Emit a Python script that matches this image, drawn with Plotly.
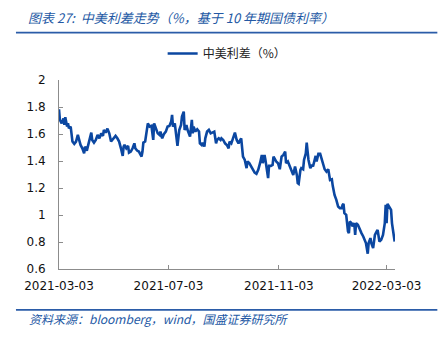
import plotly.graph_objects as go

dates = [
    "2021-03-03", "2021-03-04", "2021-03-06", "2021-03-08", "2021-03-09", "2021-03-10", "2021-03-12", "2021-03-13",
    "2021-03-14", "2021-03-16", "2021-03-18", "2021-03-20", "2021-03-22", "2021-03-24", "2021-03-26", "2021-03-27",
    "2021-03-29", "2021-03-31", "2021-04-01", "2021-04-03", "2021-04-05", "2021-04-06", "2021-04-08", "2021-04-09",
    "2021-04-11", "2021-04-13", "2021-04-15", "2021-04-17", "2021-04-19", "2021-04-21", "2021-04-22", "2021-04-24",
    "2021-04-26", "2021-04-28", "2021-04-30", "2021-05-02", "2021-05-04", "2021-05-05", "2021-05-07", "2021-05-09",
    "2021-05-11", "2021-05-13", "2021-05-14", "2021-05-15", "2021-05-17", "2021-05-19", "2021-05-20", "2021-05-22",
    "2021-05-24", "2021-05-26", "2021-05-27", "2021-05-29", "2021-05-31", "2021-06-01", "2021-06-03", "2021-06-04",
    "2021-06-05", "2021-06-07", "2021-06-08", "2021-06-10", "2021-06-12", "2021-06-14", "2021-06-16", "2021-06-17",
    "2021-06-19", "2021-06-21", "2021-06-23", "2021-06-24", "2021-06-26", "2021-06-28", "2021-06-30", "2021-07-02",
    "2021-07-04", "2021-07-06", "2021-07-07", "2021-07-08", "2021-07-10", "2021-07-12", "2021-07-13", "2021-07-15",
    "2021-07-17", "2021-07-18", "2021-07-20", "2021-07-21", "2021-07-23", "2021-07-24", "2021-07-25", "2021-07-27",
    "2021-07-28", "2021-07-29", "2021-07-30", "2021-07-31", "2021-08-02", "2021-08-04", "2021-08-06", "2021-08-07",
    "2021-08-09", "2021-08-10", "2021-08-12", "2021-08-13", "2021-08-15", "2021-08-17", "2021-08-19", "2021-08-21",
    "2021-08-23", "2021-08-25", "2021-08-26", "2021-08-28", "2021-08-30", "2021-08-31", "2021-09-02", "2021-09-04",
    "2021-09-06", "2021-09-08", "2021-09-09", "2021-09-11", "2021-09-13", "2021-09-15", "2021-09-17", "2021-09-19",
    "2021-09-21", "2021-09-22", "2021-09-24", "2021-09-26", "2021-09-28", "2021-09-29", "2021-10-01", "2021-10-02",
    "2021-10-04", "2021-10-05", "2021-10-07", "2021-10-09", "2021-10-11", "2021-10-13", "2021-10-15", "2021-10-16",
    "2021-10-18", "2021-10-19", "2021-10-21", "2021-10-22", "2021-10-23", "2021-10-25", "2021-10-27", "2021-10-28",
    "2021-10-30", "2021-10-31", "2021-11-02", "2021-11-04", "2021-11-06", "2021-11-08", "2021-11-10", "2021-11-11",
    "2021-11-13", "2021-11-15", "2021-11-17", "2021-11-19", "2021-11-21", "2021-11-23", "2021-11-24", "2021-11-25",
    "2021-11-27", "2021-11-28", "2021-11-30", "2021-12-01", "2021-12-03", "2021-12-04", "2021-12-05", "2021-12-06",
    "2021-12-08", "2021-12-10", "2021-12-11", "2021-12-13", "2021-12-14", "2021-12-15", "2021-12-17", "2021-12-19",
    "2021-12-20", "2021-12-22", "2021-12-24", "2021-12-26", "2021-12-28", "2021-12-30", "2022-01-01", "2022-01-02",
    "2022-01-04", "2022-01-06", "2022-01-08", "2022-01-10", "2022-01-12", "2022-01-13", "2022-01-14", "2022-01-15",
    "2022-01-17", "2022-01-19", "2022-01-20", "2022-01-21", "2022-01-23", "2022-01-24", "2022-01-26", "2022-01-27",
    "2022-01-28", "2022-01-30", "2022-02-01", "2022-02-03", "2022-02-05", "2022-02-07", "2022-02-08", "2022-02-10",
    "2022-02-11", "2022-02-13", "2022-02-14", "2022-02-16", "2022-02-17", "2022-02-18", "2022-02-20", "2022-02-21",
    "2022-02-23", "2022-02-25", "2022-02-27", "2022-03-01", "2022-03-02", "2022-03-03", "2022-03-04", "2022-03-06",
    "2022-03-08", "2022-03-09", "2022-03-11", "2022-03-12",
]

spread = [
    1.783, 1.704, 1.679, 1.716, 1.667, 1.724, 1.655, 1.679,
    1.642, 1.655, 1.544, 1.527, 1.544, 1.593, 1.544, 1.519,
    1.494, 1.457, 1.507, 1.477, 1.531, 1.561, 1.610, 1.556,
    1.536, 1.556, 1.593, 1.568, 1.605, 1.586, 1.630, 1.610,
    1.640, 1.605, 1.544, 1.561, 1.576, 1.586, 1.568, 1.544,
    1.494, 1.438, 1.507, 1.519, 1.494, 1.512, 1.462, 1.470,
    1.494, 1.531, 1.494, 1.477, 1.470, 1.453, 1.433, 1.470,
    1.536, 1.544, 1.581, 1.679, 1.655, 1.660, 1.556, 1.679,
    1.642, 1.605, 1.593, 1.618, 1.568, 1.601, 1.618, 1.655,
    1.660, 1.692, 1.741, 1.655, 1.679, 1.581, 1.512, 1.630,
    1.667, 1.729, 1.766, 1.630, 1.667, 1.635, 1.618, 1.581,
    1.642, 1.704, 1.605, 1.655, 1.618, 1.635, 1.618, 1.531,
    1.519, 1.536, 1.507, 1.568, 1.618, 1.630, 1.605, 1.610,
    1.618, 1.531, 1.556, 1.568, 1.556, 1.568, 1.556, 1.531,
    1.519, 1.494, 1.544, 1.531, 1.568, 1.610, 1.556, 1.531,
    1.556, 1.568, 1.433, 1.408, 1.347, 1.396, 1.384, 1.371,
    1.354, 1.334, 1.314, 1.305, 1.334, 1.384, 1.445, 1.384,
    1.445, 1.408, 1.322, 1.273, 1.364, 1.364, 1.371, 1.433,
    1.408, 1.396, 1.384, 1.339, 1.433, 1.445, 1.470, 1.384,
    1.396, 1.359, 1.334, 1.297, 1.359, 1.297, 1.236, 1.231,
    1.334, 1.347, 1.339, 1.408, 1.457, 1.536, 1.470, 1.408,
    1.347, 1.371, 1.359, 1.408, 1.438, 1.396, 1.453, 1.453,
    1.428, 1.388, 1.339, 1.322, 1.339, 1.260, 1.265, 1.216,
    1.149, 1.112, 1.063, 1.051, 1.051, 1.075, 1.083, 1.014,
    1.001, 0.878, 0.866, 0.952, 0.940, 0.915, 0.940, 0.853,
    0.940, 0.927, 0.890, 0.866, 0.841, 0.816, 0.792, 0.713,
    0.792, 0.829, 0.792, 0.755, 0.792, 0.853, 0.878, 0.890,
    0.804, 0.816, 0.853, 0.940, 1.075, 0.940, 1.083, 1.063,
    1.038, 0.940, 0.866, 0.804,
]

x_tick_vals = ["2021-03-03", "2021-07-03", "2021-11-03", "2022-03-03"]
x_tick_text = ["2021-03-03", "2021-07-03", "2021-11-03", "2022-03-03"]
y_tick_vals = [0.6, 0.8, 1.0, 1.2, 1.4, 1.6, 1.8, 2.0]
y_tick_text = ["0.6", "0.8", "1", "1.2", "1.4", "1.6", "1.8", "2"]

series_name = "中美利差（%）"
title_text = "图表 27:  中美利差走势（%，基于 10 年期国债利率）"
source_text = "资料来源：bloomberg，wind，国盛证券研究所"

W, H = 442, 342
L, R, T, B = 59, 47.3, 79.5, 73
pw = W - L - R
ph = H - T - B


def px_x(p):
    return (p - L) / pw


def px_y(p):
    return (H - B - p) / ph


LINE_BLUE = "#0B47A1"
HEAD_BLUE = "#2B5CA8"
TEXT_BLUE = "#2358A4"
AXIS_GRAY = "#8C8C8C"
CJK = "Noto Sans CJK SC"
LAT = "DejaVu Sans"

fig = go.Figure()
fig.add_trace(go.Scatter(
    x=dates, y=spread, mode="lines", name=series_name,
    line=dict(color=LINE_BLUE, width=2.6),
))

fig.update_layout(
    width=W, height=H,
    margin=dict(l=L, r=R, t=T, b=B, pad=0),
    paper_bgcolor="white", plot_bgcolor="white",
    showlegend=True,
    legend=dict(
        orientation="h", x=px_x(227), xanchor="center", y=px_y(53), yanchor="middle",
        font=dict(family=CJK, size=12, color="#222222"),
        bgcolor="rgba(0,0,0,0)", itemwidth=30,
    ),
    xaxis=dict(
        type="date", range=["2021-03-03", "2022-03-12 09:00"],
        tickvals=x_tick_vals, ticktext=x_tick_text,
        showgrid=False, zeroline=False,
        showline=True, linecolor=AXIS_GRAY, linewidth=1,
        ticks="inside", ticklen=4, tickcolor=AXIS_GRAY,
        tickfont=dict(family=LAT, size=12, color="#111111"),
        ticklabelstandoff=6,
    ),
    yaxis=dict(
        range=[0.6, 2.0],
        tickvals=y_tick_vals, ticktext=y_tick_text,
        showgrid=False, zeroline=False,
        showline=True, linecolor=AXIS_GRAY, linewidth=1,
        ticks="inside", ticklen=4, tickcolor=AXIS_GRAY,
        tickfont=dict(family=LAT, size=12, color="#111111"),
        ticklabelstandoff=10,
    ),
    shapes=[
        dict(type="line", xref="paper", yref="paper",
             x0=px_x(16), x1=px_x(437), y0=px_y(32), y1=px_y(32),
             line=dict(color=HEAD_BLUE, width=1.6)),
        dict(type="line", xref="paper", yref="paper",
             x0=px_x(16), x1=px_x(437), y0=px_y(310), y1=px_y(310),
             line=dict(color=HEAD_BLUE, width=1.6)),
    ],
    annotations=[
        dict(text="<i>" + title_text + "</i>", xref="paper", yref="paper",
             x=px_x(26), y=px_y(17), xanchor="left", yanchor="middle",
             showarrow=False, font=dict(family=CJK, size=13, color=TEXT_BLUE)),
        dict(text="<i>" + source_text + "</i>", xref="paper", yref="paper",
             x=px_x(27), y=px_y(319), xanchor="left", yanchor="middle",
             showarrow=False, font=dict(family=CJK, size=12, color=TEXT_BLUE)),
    ],
)

fig.write_html("out.html")
